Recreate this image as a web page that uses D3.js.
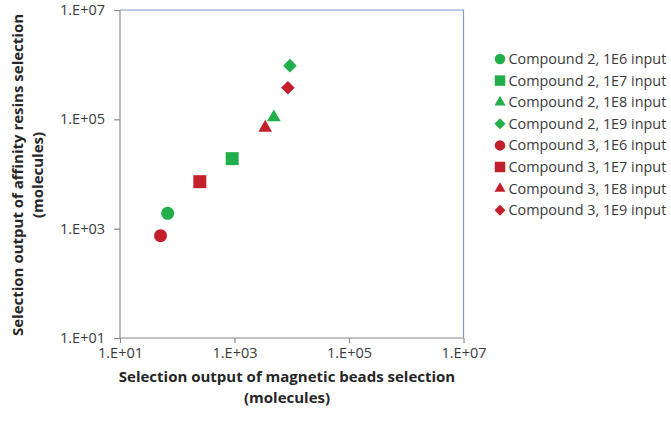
<!DOCTYPE html>
<html><head><meta charset="utf-8">
<script src="https://cdn.jsdelivr.net/npm/d3@7"></script>
<style>body{margin:0;background:#fff}svg{display:block}</style>
</head><body><svg id="c" width="671" height="432"></svg>
<script>
const seriesNames = ["Compound 2, 1E6 input","Compound 2, 1E7 input","Compound 2, 1E8 input","Compound 2, 1E9 input",
  "Compound 3, 1E6 input","Compound 3, 1E7 input","Compound 3, 1E8 input","Compound 3, 1E9 input"];
const seriesShapes = ["circle","square","triangle","diamond","circle","square","triangle","diamond"];
const seriesColors = ["#22ae4a","#22ae4a","#22ae4a","#22ae4a","#c3202b","#c3202b","#c3202b","#c3202b"];
const magneticBeads = [68, 910, 4870, 9300, 51, 248, 3440, 8570];
const affinityResins = [1910, 19100, 109000, 960000, 745, 7240, 70300, 379000];
const tickValues = [1e1, 1e3, 1e5, 1e7];
const tickLabels = ["1.E+01","1.E+03","1.E+05","1.E+07"];

const svg = d3.select("#c");
const font = "'Open Sans', sans-serif";
const L = 120, R = 463.5, T = 10, B = 338;
const x = d3.scaleLog().domain([1e1, 1e7]).range([L, R]);
const y = d3.scaleLog().domain([1e1, 1e7]).range([B, T]);

// top/right frame
svg.append("path").attr("d", `M${L},${T}H${R}V${B}`).attr("fill","none").attr("stroke","#7d9ccc").attr("stroke-width",1.2);

const fmt = d => tickLabels[tickValues.indexOf(d)];
const gx = svg.append("g").attr("transform",`translate(0,${B})`)
  .call(d3.axisBottom(x).tickValues(tickValues).tickFormat(fmt).tickSize(5).tickPadding(5));
const gy = svg.append("g").attr("transform",`translate(${L},0)`)
  .call(d3.axisLeft(y).tickValues(tickValues).tickFormat(fmt).tickSize(6).tickPadding(9));
[gx, gy].forEach(g => {
  g.selectAll("path,line").attr("stroke","#8a8a8a").attr("stroke-width",1.2);
  g.selectAll("text").attr("font-family",font).attr("font-size",14.5).attr("fill","#3a3a3a");
});
gx.select(".domain").attr("d",`M${L},0H${R}`);
gy.select(".domain").attr("d",`M0,${B}V${T}`);

function sym(shape, s) {
  const m = {circle:[d3.symbolCircle, s*s*Math.PI/4], square:[d3.symbolSquare, s*s],
    triangle:[d3.symbolTriangle, s*s*0.48], diamond:[d3.symbolSquare, s*s*0.55]};
  const [t, a] = m[shape];
  return d3.symbol().type(t).size(a)();
}
function rot(shape){ return shape === "diamond" ? " rotate(45)" : ""; }

svg.append("g").selectAll("path").data(seriesNames).join("path")
  .attr("d",(d,i)=>sym(seriesShapes[i],13))
  .attr("transform",(d,i)=>`translate(${x(magneticBeads[i])},${y(affinityResins[i])})${rot(seriesShapes[i])}`)
  .attr("fill",(d,i)=>seriesColors[i]);

// legend
const lg = svg.append("g").selectAll("g").data(seriesNames).join("g")
  .attr("transform",(d,i)=>`translate(500,${59 + i*21.6})`);
lg.append("path").attr("d",(d,i)=>sym(seriesShapes[i],10.5))
  .attr("transform",(d,i)=>rot(seriesShapes[i]).trim()).attr("fill",(d,i)=>seriesColors[i]);
lg.append("text").attr("x",8.5).attr("dy","0.35em").text(d=>d)
  .attr("font-family",font).attr("font-size",14.4).attr("fill","#3a3a3a");

// axis titles
const xt = svg.append("text").attr("text-anchor","middle").attr("font-family",font)
  .attr("font-weight","bold").attr("font-size",15).attr("fill","#262626");
xt.append("tspan").attr("x",287).attr("y",382).text("Selection output of magnetic beads selection");
xt.append("tspan").attr("x",287).attr("y",403).text("(molecules)");
const yt = svg.append("text").attr("text-anchor","middle").attr("font-family",font)
  .attr("font-weight","bold").attr("font-size",15).attr("fill","#262626")
  .attr("transform","translate(0,175) rotate(-90)");
yt.append("tspan").attr("x",0).attr("y",23).text("Selection output of affinity resins selection");
yt.append("tspan").attr("x",0).attr("y",43).text("(molecules)");
</script></body></html>
